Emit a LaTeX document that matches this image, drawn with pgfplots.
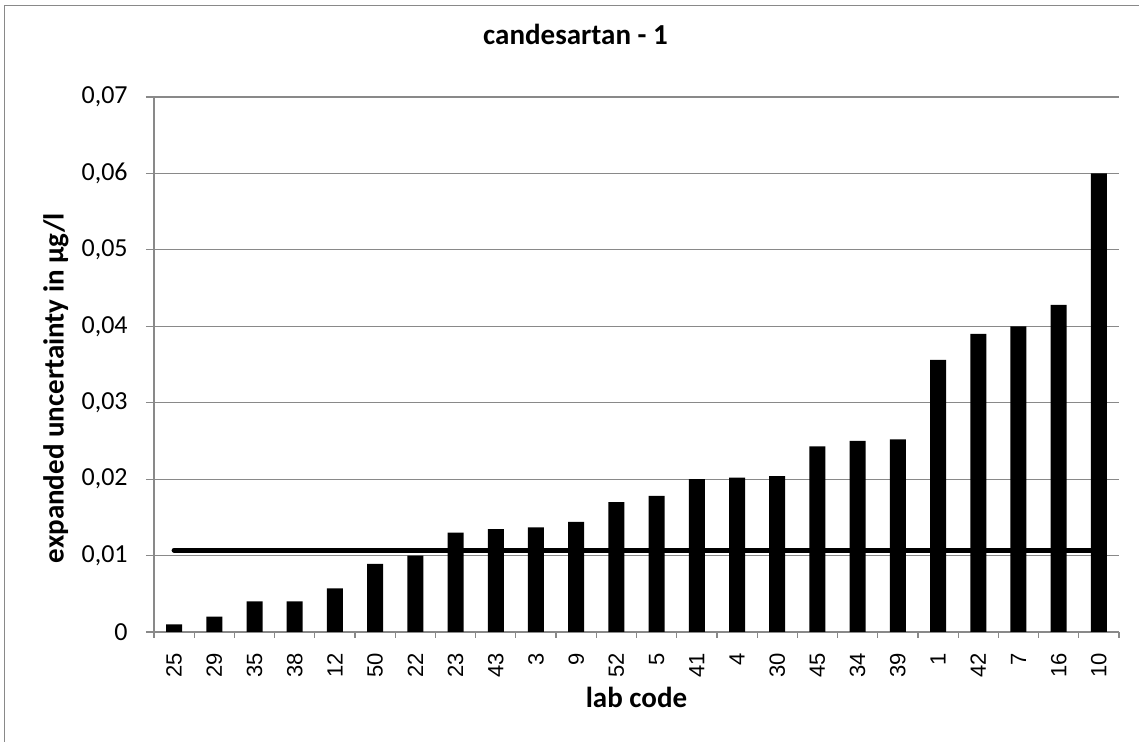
\documentclass[border=0pt]{standalone}
\usepackage{pgfplots}
\pgfplotsset{compat=1.18}
\usepackage{fontspec}
\setmainfont{Carlito}
\newfontfamily\arialf{Liberation Sans}
\definecolor{gridgray}{HTML}{898989}
\begin{document}
\begin{tikzpicture}
\begin{axis}[
  scale only axis,
  width=482.5pt, height=267.5pt,
  at={(0,0)}, anchor=south west,
  ybar, bar width=8pt,
  xmin=-0.5, xmax=23.5,
  ymin=0, ymax=0.07,
  scaled y ticks=false,
  axis x line*=bottom, axis y line*=left,
  axis line style={gridgray, line width=0.6pt},
  ytick={0,0.01,...,0.07},
  yticklabels={0,{0,01},{0,02},{0,03},{0,04},{0,05},{0,06},{0,07}},
  ymajorgrids, grid style={gridgray, line width=0.6pt},
  xtick={0,...,23},
  xticklabels={25,29,35,38,12,50,22,23,43,3,9,52,5,41,4,30,45,34,39,1,42,7,16,10},
  minor xtick={-0.5,0.5,...,23.5},
  tick align=outside,
  major x tick style={draw=none},
  minor x tick style={gridgray, line width=0.6pt},
  major y tick style={gridgray, line width=0.6pt},
  major tick length=4pt, minor tick length=3pt,
  x tick label style={font=\arialf\fontsize{11}{13}\selectfont, rotate=90, anchor=east, inner sep=0pt, xshift=-6.5pt},
  y tick label style={font=\fontsize{13}{15}\selectfont, anchor=east, inner sep=0pt, xshift=-9pt},
  xlabel={lab code},
  ylabel={expanded uncertainty in µg/l},
  title={candesartan - 1},
  xlabel style={font=\bfseries\fontsize{14.5}{17}\selectfont, at={(axis description cs:0.5,-0.1215)}, anchor=center},
  ylabel style={font=\bfseries\fontsize{14.5}{17}\selectfont, at={(axis description cs:-0.1016,0.456)}, anchor=center},
  title style={font=\bfseries\fontsize{14.5}{17}\selectfont, at={(axis description cs:0.4368,1.0953)}, anchor=center},
  clip=false,
]
\addplot[fill=black, draw=none] coordinates {
(0,0.001) (1,0.002) (2,0.004) (3,0.004) (4,0.0057) (5,0.0089) (6,0.0100) (7,0.0130)
(8,0.01345) (9,0.0137) (10,0.0144) (11,0.0170) (12,0.0178) (13,0.0200) (14,0.0202) (15,0.0204)
(16,0.0243) (17,0.0250) (18,0.0252) (19,0.0356) (20,0.0390) (21,0.0400) (22,0.0428) (23,0.0600)
};
\addplot[sharp plot, black, line width=2.5pt, line cap=round, mark=none] coordinates {(0,0.0107) (23,0.0107)};
\end{axis}
\draw[gridgray, line width=0.75pt] (-74.75pt,-80pt) -- (-74.75pt,313.25pt) -- (520pt,313.25pt);
\pgfresetboundingbox
\path (-77pt,-55pt) rectangle (492.5pt,316pt);
\end{tikzpicture}
\end{document}
